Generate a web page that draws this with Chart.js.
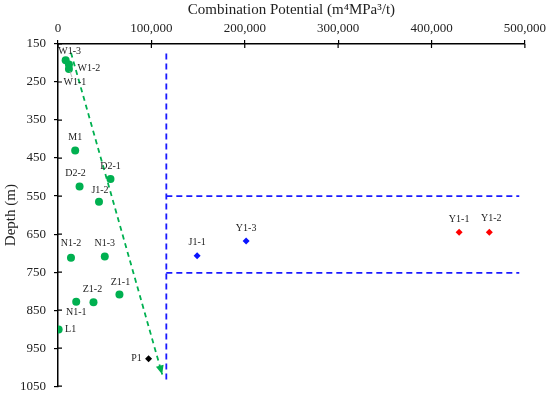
<!DOCTYPE html>
<html>
<head>
<meta charset="utf-8">
<script src="https://cdn.jsdelivr.net/npm/chart.js@4/dist/chart.umd.min.js"></script>
<style>
  html, body { margin: 0; padding: 0; background: #fff; }
  #wrap { width: 550px; height: 402px; }
</style>
</head>
<body>
<div id="wrap"><canvas id="potentialChart"></canvas></div>
<script>
// Data
const xTickLabels = ['0', '100,000', '200,000', '300,000', '400,000', '500,000'];
const yTickLabels = ['150', '250', '350', '450', '550', '650', '750', '850', '950', '1050'];

const wellNames = ['W1-3', 'W1-2', 'W1-1', 'M1', 'D2-1', 'D2-2', 'J1-2', 'N1-2', 'N1-3', 'Z1-1', 'Z1-2', 'N1-1', 'L1'];
const wellPotential = [8200, 11700, 11700, 18400, 56200, 23100, 43900, 13900, 50100, 65800, 38000, 19500, 700];
const wellDepth = [193, 204, 216, 430, 505, 525, 565, 712, 709, 809, 829, 828, 901];

const p1Names = ['P1'];
const p1Potential = [97000];
const p1Depth = [978];

const blueNames = ['J1-1', 'Y1-3'];
const bluePotential = [149000, 201500];
const blueDepth = [707, 668];

const redNames = ['Y1-1', 'Y1-2'];
const redPotential = [429600, 461900];
const redDepth = [645, 645];

const trendPotential = [13900, 111600];
const trendDepth = [173, 1019];

const boundVertPotential = [116000, 116000];
const boundVertDepth = [175, 1041];
const boundUpperPotential = [116000, 494000];
const boundUpperDepth = [550, 550];
const boundLowerPotential = [116000, 494000];
const boundLowerDepth = [752, 752];

const toPoints = (xs, ys) => xs.map((x, i) => ({ x: x, y: ys[i] }));

const FONT = "'Liberation Serif', 'Times New Roman', serif";
const GREEN = '#00b050';
const BLUE = '#1a1aff';

// label placement around each marker (pixels)
const labelOffsets = {
    'W1-3': [4, -9], 'W1-2': [20, 4], 'W1-1': [6, 13], 'M1': [0, -13], 'D2-1': [0, -13],
    'D2-2': [-4, -13], 'J1-2': [1, -11], 'N1-2': [0, -14], 'N1-3': [0, -13], 'Z1-1': [1, -12],
    'Z1-2': [-1, -13], 'N1-1': [0, 11], 'L1': [12, 0], 'P1': [-12, 0], 'J1-1': [0, -13],
    'Y1-3': [0, -13], 'Y1-1': [0, -13], 'Y1-2': [2, -14]
};

const pointLabels = {
    id: 'pointLabels',
    afterDatasetsDraw(chart) {
        const ctx = chart.ctx;
        ctx.save();
        ctx.font = '10px ' + FONT;
        ctx.fillStyle = '#222';
        ctx.textAlign = 'center';
        ctx.textBaseline = 'middle';
        chart.data.datasets.forEach((ds, di) => {
            if (!ds.names) return;
            const meta = chart.getDatasetMeta(di);
            meta.data.forEach((pt, i) => {
                const name = ds.names[i];
                const off = labelOffsets[name] || [0, -13];
                if (name === 'W1-1') {
                    ctx.strokeStyle = '#aaa';
                    ctx.lineWidth = 0.8;
                    ctx.beginPath();
                    ctx.moveTo(pt.x + 3, pt.y + 8);
                    ctx.lineTo(pt.x + 1, pt.y + 2);
                    ctx.stroke();
                }
                ctx.fillText(name, pt.x + off[0], pt.y + off[1]);
            });
        });
        // arrow head at the end of the trend line
        const tmeta = chart.getDatasetMeta(chart.data.datasets.findIndex(d => d.arrow));
        const a = tmeta.data[0], b = tmeta.data[tmeta.data.length - 1];
        const ang = Math.atan2(b.y - a.y, b.x - a.x);
        ctx.fillStyle = GREEN;
        ctx.beginPath();
        ctx.moveTo(b.x, b.y);
        ctx.lineTo(b.x - 9 * Math.cos(ang) + 4 * Math.sin(ang), b.y - 9 * Math.sin(ang) - 4 * Math.cos(ang));
        ctx.lineTo(b.x - 9 * Math.cos(ang) - 4 * Math.sin(ang), b.y - 9 * Math.sin(ang) + 4 * Math.cos(ang));
        ctx.closePath();
        ctx.fill();
        ctx.restore();
    }
};

// small tick marks on the inner side of both axes
const innerTicks = {
    id: 'innerTicks',
    afterDraw(chart) {
        const ctx = chart.ctx;
        const xs = chart.scales.x, ys = chart.scales.y;
        ctx.save();
        ctx.strokeStyle = '#000';
        ctx.lineWidth = 1.2;
        ctx.beginPath();
        xs.ticks.forEach(t => {
            const px = xs.getPixelForValue(t.value);
            ctx.moveTo(px, ys.top);
            ctx.lineTo(px, ys.top + 4);
        });
        ys.ticks.forEach(t => {
            const py = ys.getPixelForValue(t.value);
            ctx.moveTo(xs.left, py);
            ctx.lineTo(xs.left + 4, py);
        });
        ctx.stroke();
        ctx.restore();
    }
};

const dashed = (xs, ys, color, dash) => ({
    type: 'line',
    data: toPoints(xs, ys),
    borderColor: color,
    borderWidth: 1.8,
    borderDash: dash,
    pointRadius: 0,
    fill: false,
    showLine: true
});

const trend = dashed(trendPotential, trendDepth, GREEN, [5, 4]);
trend.arrow = true;

new Chart(document.getElementById('potentialChart'), {
    type: 'scatter',
    data: {
        datasets: [
            dashed(boundVertPotential, boundVertDepth, BLUE, [6, 4]),
            dashed(boundUpperPotential, boundUpperDepth, BLUE, [6, 4]),
            dashed(boundLowerPotential, boundLowerDepth, BLUE, [6, 4]),
            trend,
            {
                names: wellNames,
                data: toPoints(wellPotential, wellDepth),
                pointStyle: 'circle', pointRadius: 4, borderWidth: 0,
                backgroundColor: GREEN, borderColor: GREEN
            },
            {
                names: p1Names,
                data: toPoints(p1Potential, p1Depth),
                pointStyle: 'rectRot', pointRadius: 3.5, borderWidth: 0,
                backgroundColor: '#000', borderColor: '#000'
            },
            {
                names: blueNames,
                data: toPoints(bluePotential, blueDepth),
                pointStyle: 'rectRot', pointRadius: 3.5, borderWidth: 0,
                backgroundColor: '#0a14ff', borderColor: '#0a14ff'
            },
            {
                names: redNames,
                data: toPoints(redPotential, redDepth),
                pointStyle: 'rectRot', pointRadius: 3.5, borderWidth: 0,
                backgroundColor: '#ff0000', borderColor: '#ff0000'
            }
        ]
    },
    options: {
        responsive: true,
        maintainAspectRatio: false,
        animation: false,
        layout: { padding: { top: 0, left: 0, right: 23, bottom: 10 } },
        plugins: {
            legend: { display: false },
            tooltip: { enabled: false }
        },
        scales: {
            x: {
                type: 'linear',
                position: 'top',
                min: 0, max: 500000,
                afterFit: s => { s.height = 44; },
                ticks: {
                    stepSize: 100000,
                    padding: 4,
                    color: '#222',
                    font: { family: FONT, size: 13 },
                    maxRotation: 0,
                    callback: v => xTickLabels[Math.round(v / 100000)]
                },
                grid: { drawOnChartArea: false, drawTicks: true, tickLength: 4, color: '#000', lineWidth: 1.2 },
                border: { display: true, color: '#000', width: 1.5 },
                title: {
                    display: true,
                    text: 'Combination Potential (m⁴MPa³/t)',
                    color: '#222',
                    font: { family: FONT, size: 15 },
                    padding: { top: 1, bottom: 0 }
                }
            },
            y: {
                type: 'linear',
                reverse: true,
                min: 150, max: 1050,
                afterFit: s => { s.width = 58; },
                ticks: {
                    stepSize: 100,
                    padding: 8,
                    color: '#222',
                    font: { family: FONT, size: 13 },
                    callback: v => yTickLabels[Math.round((v - 150) / 100)]
                },
                grid: { drawOnChartArea: false, drawTicks: true, tickLength: 4, color: '#000', lineWidth: 1.2 },
                border: { display: true, color: '#000', width: 1.5 },
                title: {
                    display: true,
                    text: 'Depth (m)',
                    color: '#222',
                    font: { family: FONT, size: 15 },
                    padding: { top: 2, bottom: 0 }
                }
            }
        }
    },
    plugins: [pointLabels, innerTicks]
});
</script>
</body>
</html>
